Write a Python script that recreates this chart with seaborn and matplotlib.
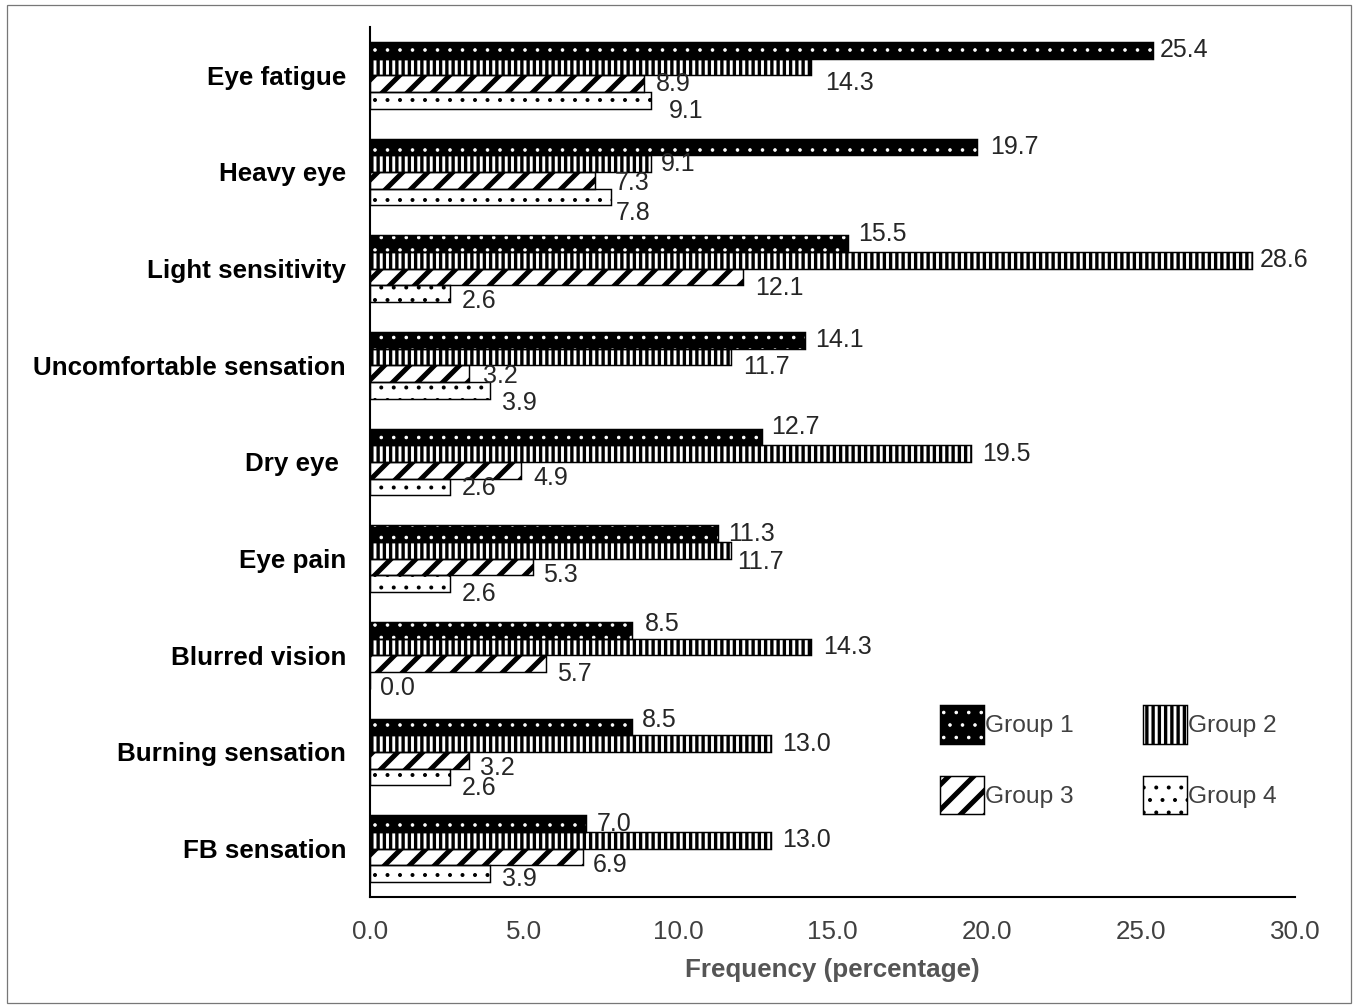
import numpy as np
import pandas as pd
import matplotlib
matplotlib.use('Agg')
import matplotlib.pyplot as plt
import seaborn as sns
from matplotlib.patches import Patch, Rectangle
from matplotlib.legend_handler import HandlerTuple

categories = ['Eye fatigue', 'Heavy eye', 'Light sensitivity', 'Uncomfortable sensation',
              'Dry eye ', 'Eye pain', 'Blurred vision', 'Burning sensation', 'FB sensation']
groups = ['Group 1', 'Group 2', 'Group 3', 'Group 4']
group1 = [25.4, 19.7, 15.5, 14.1, 12.7, 11.3, 8.5, 8.5, 7.0]
group2 = [14.3, 9.1, 28.6, 11.7, 19.5, 11.7, 14.3, 13.0, 13.0]
group3 = [8.9, 7.3, 12.1, 3.2, 4.9, 5.3, 5.7, 3.2, 6.9]
group4 = [9.1, 7.8, 2.6, 3.9, 2.6, 2.6, 0.0, 2.6, 3.9]
xticks = [0, 5, 10, 15, 20, 25, 30]

# label nudges in pixels (Excel placed them a bit irregularly)
lab_dx = [[7, 13, 10, 10, 10, 10, 13, 10, 11],
          [14, 10, 8, 12, 11, 6, 12, 11, 11],
          [11, 20, 12, 14, 12, 10, 11, 11, 10],
          [18, 5, 12, 12, 12, 12, 10, 12, 12]]
lab_dy = [[0, 0, -10, 0, -10, 0, -6, -7, 0],
          [16, 0, 0, 10, 0, 12, 0, 0, 0],
          [0, 3, 11, 2, 8, 8, 10, 8, 8],
          [11, 16, 7, 13, 1, 10, 8, 11, 5]]

# style per group: face colour, hatch colour, hatch, hatch width
styles = [('black', 'white', '.', 1.0),
          ('white', 'black', '||', 3.2),
          ('white', 'black', '/', 4.8),
          ('white', 'black', '.', 1.4)]


def set_hatch(p, fc, hc, hatch, hlw):
    p.set_facecolor(fc)
    p.set_edgecolor(hc)
    p.set_hatch(hatch)
    p.set_linewidth(0)
    if hasattr(p, 'set_hatch_linewidth'):
        p.set_hatch_linewidth(hlw)


df = pd.DataFrame({
    'category': categories * 4,
    'group': np.repeat(groups, len(categories)),
    'value': group1 + group2 + group3 + group4,
})

sns.set_style('white')
plt.rcParams['font.family'] = ['Liberation Sans', 'DejaVu Sans']

DPI = 75
fig = plt.figure(figsize=(1354 / DPI, 1005 / DPI), dpi=DPI)
ax = fig.add_axes([370 / 1354, 1 - 897 / 1005, (1295 - 370) / 1354, (897 - 27) / 1005])

sns.barplot(data=df, x='value', y='category', hue='group', order=categories,
            hue_order=groups, orient='h', width=0.69, saturation=1,
            palette=['black', 'white', 'white', 'white'], legend=False, ax=ax)

for gi, cont in enumerate(ax.containers):
    for ci, bar in enumerate(cont):
        set_hatch(bar, *styles[gi])
        ax.add_patch(Rectangle(bar.get_xy(), bar.get_width(), bar.get_height(),
                               fill=False, edgecolor='black', lw=1.4, zorder=bar.get_zorder() + 0.1))
        w = bar.get_width()
        ax.annotate(f'{w:.1f}', (w, bar.get_y() + bar.get_height() / 2),
                    xytext=(lab_dx[gi][ci], -lab_dy[gi][ci]), textcoords='offset pixels',
                    ha='left', va='center', fontsize=24, color='#262626')

ax.set_xlim(0, 30)
ax.set_ylim(len(categories) - 0.5, -0.5)
ax.set_xticks(xticks)
ax.set_xticklabels([f'{t:.1f}' for t in xticks])
ax.tick_params(axis='x', length=0, pad=22, labelsize=25, labelcolor='#404040')
ax.tick_params(axis='y', length=0, pad=23, labelsize=25, labelcolor='black')
for lab in ax.get_yticklabels():
    lab.set_fontweight('bold')
ax.set_ylabel('')
ax.set_xlabel('Frequency (percentage)', fontsize=25, fontweight='bold', color='#555555', labelpad=14)

for side in ['top', 'right']:
    ax.spines[side].set_visible(False)
for side in ['left', 'bottom']:
    ax.spines[side].set_color('black')
    ax.spines[side].set_linewidth(2)

handles = []
for st in styles:
    p = Patch()
    set_hatch(p, *st)
    handles.append((p, Patch(facecolor='none', edgecolor='black', lw=1.4)))
order = [0, 2, 1, 3]
leg = fig.legend([handles[i] for i in order], [groups[i] for i in order],
                 handler_map={tuple: HandlerTuple(ndivide=1, pad=0)},
                 ncol=2, loc='upper left', bbox_to_anchor=(940 / 1354, 1 - 705 / 1005),
                 frameon=False, fontsize=23.5, handlelength=1.8, handleheight=2.06,
                 handletextpad=0.05, columnspacing=2.8, labelspacing=1.3,
                 borderpad=0, borderaxespad=0)
for t in leg.get_texts():
    t.set_color('#404040')
# legend copies lose the per-patch hatch width, put it back
for p in leg.findobj(Patch):
    for st in styles:
        if p.get_hatch() == st[2] and matplotlib.colors.same_color(p.get_facecolor(), st[0]):
            if hasattr(p, 'set_hatch_linewidth'):
                p.set_hatch_linewidth(st[3])

fig.add_artist(Rectangle((7 / 1354, 2 / 1005), 1344 / 1354, 998 / 1005, transform=fig.transFigure,
                         fill=False, edgecolor='#777777', lw=1.2))

fig.savefig('out.png', dpi=DPI)
